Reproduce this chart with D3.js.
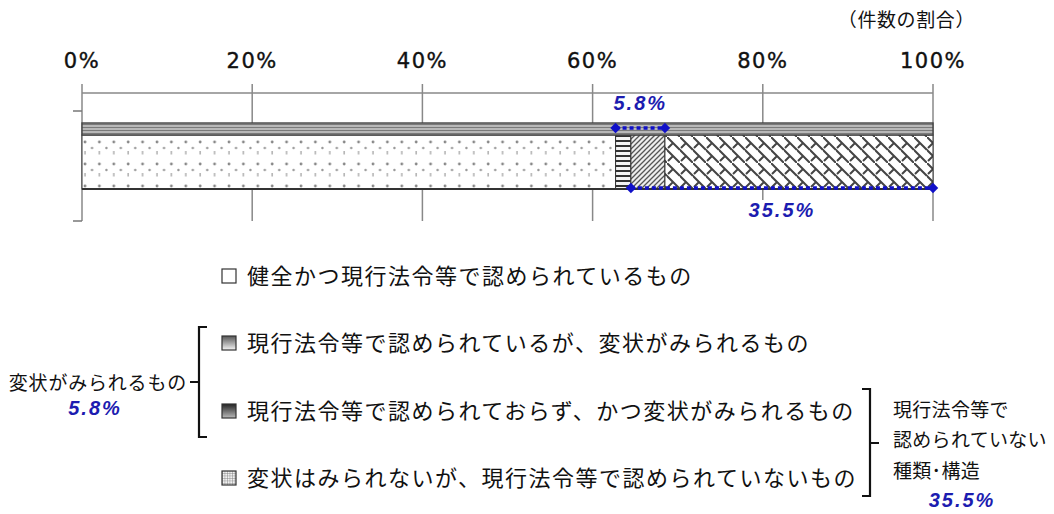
<!DOCTYPE html>
<html>
<head>
<meta charset="utf-8">
<script src="https://cdn.jsdelivr.net/npm/d3@7"></script>
<style>
  body { margin: 0; background: #fff; }
  svg { display: block; }
  .jp { font-family: "Noto Sans CJK JP", sans-serif; fill: #111; }
  .pct { font-family: "DejaVu Sans", sans-serif; fill: #111; }
  .blue { font-family: "Liberation Sans", sans-serif; font-weight: bold; font-style: italic; fill: #1c1cb0; }
</style>
</head>
<body>
<svg id="chart" width="1054" height="514"></svg>
<script>
// data
var categories = [
  "健全かつ現行法令等で認められているもの",
  "現行法令等で認められているが、変状がみられるもの",
  "現行法令等で認められておらず、かつ変状がみられるもの",
  "変状はみられないが、現行法令等で認められていないもの"
];
var values = [62.7, 1.8, 4.0, 31.5];
var tickValues = [0, 20, 40, 60, 80, 100];
var unitLabel = "（件数の割合）";
var henjoLabel = "変状がみられるもの";
var henjoValue = 5.8;   // items 2 + 3
var notOkLabel = ["現行法令等で", "認められていない", "種類･構造"];
var notOkValue = 35.5;  // items 3 + 4

var svg = d3.select("#chart");
var x = d3.scaleLinear().domain([0, 100]).range([82, 933]);
var y = d3.scaleBand().domain(["all"]).range([123, 189]).padding(0);

// patterns
var defs = svg.append("defs");
var p1 = defs.append("pattern").attr("id", "dots").attr("patternUnits", "userSpaceOnUse")
  .attr("width", 14.4).attr("height", 22).attr("x", 82).attr("y", 137);
p1.append("rect").attr("width", 14.4).attr("height", 22).attr("fill", "#fff");
p1.append("circle").attr("cx", 3).attr("cy", 5).attr("r", 1.4).attr("fill", "#888");
p1.append("rect").attr("x", 2.3).attr("y", 14).attr("width", 1.4).attr("height", 3.5).attr("fill", "#aaa");
p1.append("circle").attr("cx", 10).attr("cy", 11).attr("r", 1.2).attr("fill", "#999");

var p2 = defs.append("pattern").attr("id", "hlines").attr("patternUnits", "userSpaceOnUse")
  .attr("width", 8).attr("height", 5);
p2.append("rect").attr("width", 8).attr("height", 5).attr("fill", "#f4f4f4");
p2.append("rect").attr("y", 0).attr("width", 8).attr("height", 2).attr("fill", "#333");

var p3 = defs.append("pattern").attr("id", "diag").attr("patternUnits", "userSpaceOnUse")
  .attr("width", 5).attr("height", 5);
p3.append("rect").attr("width", 5).attr("height", 5).attr("fill", "#eee");
p3.append("path").attr("d", "M-1,6 L6,-1 M-1,1 L1,-1 M4,6 L6,4").attr("stroke", "#555").attr("stroke-width", 1.3);

var p4 = defs.append("pattern").attr("id", "shingle").attr("patternUnits", "userSpaceOnUse")
  .attr("width", 13).attr("height", 26).attr("x", 667).attr("y", 137);
p4.append("rect").attr("width", 13).attr("height", 26).attr("fill", "#fff");
p4.append("path").attr("d", "M0,0 L13,13 M-13,0 L13,26 M0,13 L13,26 M6,6 L1,11 M6,19 L1,24")
  .attr("stroke", "#444").attr("stroke-width", 2);

var p5 = defs.append("pattern").attr("id", "strip").attr("patternUnits", "userSpaceOnUse")
  .attr("width", 6).attr("height", 3).attr("y", 124);
p5.append("rect").attr("width", 6).attr("height", 3).attr("fill", "#b8b8b8");
p5.append("rect").attr("width", 6).attr("height", 1).attr("fill", "#7a7a7a");

var p6 = defs.append("pattern").attr("id", "grid").attr("patternUnits", "userSpaceOnUse")
  .attr("width", 2.5).attr("height", 2.5);
p6.append("rect").attr("width", 2.5).attr("height", 2.5).attr("fill", "#f2f2f2");
p6.append("path").attr("d", "M0,0 H2.5 M0,0 V2.5").attr("stroke", "#777").attr("stroke-width", 0.8);

var g1 = defs.append("linearGradient").attr("id", "grad1").attr("x1", 0).attr("y1", 0).attr("x2", 0).attr("y2", 1);
g1.append("stop").attr("offset", "0%").attr("stop-color", "#555");
g1.append("stop").attr("offset", "100%").attr("stop-color", "#f5f5f5");
var g2 = defs.append("linearGradient").attr("id", "grad2").attr("x1", 0).attr("y1", 0).attr("x2", 0).attr("y2", 1);
g2.append("stop").attr("offset", "0%").attr("stop-color", "#222");
g2.append("stop").attr("offset", "100%").attr("stop-color", "#bbb");

var barFills = ["url(#dots)", "url(#hlines)", "url(#diag)", "url(#shingle)"];
var swatchFills = ["#fff", "url(#grad1)", "url(#grad2)", "url(#grid)"];

// gridlines
svg.append("g").selectAll("line").data(tickValues).enter().append("line")
  .attr("x1", d => x(d)).attr("x2", d => x(d))
  .attr("y1", 84).attr("y2", 221)
  .attr("stroke", "#888").attr("stroke-width", 1.5);
svg.append("line").attr("x1", x(0)).attr("x2", x(100)).attr("y1", 93).attr("y2", 93)
  .attr("stroke", "#888").attr("stroke-width", 1.5);
// category axis ticks
svg.append("g").selectAll("line").data([111, 221]).enter().append("line")
  .attr("x1", x(0) - 9).attr("x2", x(0)).attr("y1", d => d).attr("y2", d => d)
  .attr("stroke", "#777").attr("stroke-width", 1.5);

// tick labels
svg.append("g").selectAll("text").data(tickValues).enter().append("text")
  .attr("class", "pct")
  .attr("x", d => x(d)).attr("y", 68)
  .attr("text-anchor", "middle")
  .style("font-size", "21px").style("letter-spacing", "1.5px")
  .style("stroke", "#111").style("stroke-width", 0.4)
  .text(d => d + "%");

svg.append("text").attr("class", "jp").attr("x", 975).attr("y", 27)
  .attr("text-anchor", "end").style("font-size", "19px").style("letter-spacing", "0.6px")
  .text(unitLabel);

// stacked segments
var stack = [];
var acc = 0;
values.forEach(function(v, i) { stack.push({ i: i, x0: acc, x1: acc + v }); acc += v; });

var by = y("all"), bh = y.bandwidth();
svg.append("g").selectAll("rect").data(stack).enter().append("rect")
  .attr("x", d => x(d.x0)).attr("width", d => x(d.x1) - x(d.x0))
  .attr("y", by + 12).attr("height", bh - 12)
  .attr("fill", d => barFills[d.i])
  .attr("stroke", "#333").attr("stroke-width", 1);
// top strip
svg.append("rect").attr("x", x(0)).attr("width", x(100) - x(0))
  .attr("y", by).attr("height", 12)
  .attr("fill", "url(#strip)").attr("stroke", "#444").attr("stroke-width", 1.4);
svg.append("line").attr("x1", x(0)).attr("x2", x(100)).attr("y1", by + bh).attr("y2", by + bh)
  .attr("stroke", "#333").attr("stroke-width", 2);

// annotation lines
function annot(a, b, yy, label, ly, box) {
  svg.append("line").attr("x1", x(a)).attr("x2", x(b)).attr("y1", yy).attr("y2", yy)
    .attr("stroke", "#1010c8").attr("stroke-width", 3.5).attr("stroke-dasharray", "4,3");
  svg.append("g").selectAll("path").data([a, b]).enter().append("path")
    .attr("d", d3.symbol(d3.symbolDiamond2, 70))
    .attr("transform", d => "translate(" + x(d) + "," + yy + ")")
    .attr("fill", "#1010c8");
  var cx = (x(a) + x(b)) / 2;
  if (box) {
    svg.append("rect").attr("x", cx - 38).attr("y", ly - 17).attr("width", 76).attr("height", 22)
      .attr("fill", "#fff");
  }
  svg.append("text").attr("class", "blue").attr("x", cx).attr("y", ly)
    .attr("text-anchor", "middle").style("font-size", "20px").style("letter-spacing", "2px")
    .text(label + "%");
}
annot(values[0], values[0] + henjoValue, 128, henjoValue.toFixed(1), 110, false);
annot(values[0] + values[1], 100, 188, notOkValue.toFixed(1), 217, true);

// legend
var legY = [276, 343, 411, 478];
var leg = svg.append("g").selectAll("g").data(categories).enter().append("g")
  .attr("transform", (d, i) => "translate(222," + legY[i] + ")");
leg.append("rect").attr("x", 0).attr("y", -7).attr("width", 14).attr("height", 14)
  .attr("fill", (d, i) => swatchFills[i]).attr("stroke", "#333").attr("stroke-width", 1.2);
leg.append("text").attr("class", "jp").attr("x", 25).attr("y", 0).attr("dy", "0.36em")
  .style("font-size", "22px").style("letter-spacing", "1.5px")
  .text(d => d);

// left bracket
svg.append("path").attr("d", "M207,327 H199 V437 H207 M199,382 H190")
  .attr("fill", "none").attr("stroke", "#111").attr("stroke-width", 2.2);
svg.append("text").attr("class", "jp").attr("x", 187).attr("y", 383).attr("dy", "0.36em")
  .attr("text-anchor", "end").style("font-size", "19px").style("letter-spacing", "0.8px")
  .text(henjoLabel);
svg.append("text").attr("class", "blue").attr("x", 95).attr("y", 415)
  .attr("text-anchor", "middle").style("font-size", "20px").style("letter-spacing", "2px")
  .text(henjoValue.toFixed(1) + "%");

// right bracket
svg.append("path").attr("d", "M862,389 H870 V496 H862 M870,443 H879")
  .attr("fill", "none").attr("stroke", "#111").attr("stroke-width", 2.2);
svg.append("g").selectAll("text").data(notOkLabel).enter().append("text")
  .attr("class", "jp").attr("x", 893).attr("y", (d, i) => 410 + i * 30.5).attr("dy", "0.36em")
  .style("font-size", "19px").style("letter-spacing", "0.3px")
  .text(d => d);
svg.append("text").attr("class", "blue").attr("x", 962).attr("y", 507)
  .attr("text-anchor", "middle").style("font-size", "20px").style("letter-spacing", "2px")
  .text(notOkValue.toFixed(1) + "%");
</script>
</body>
</html>
